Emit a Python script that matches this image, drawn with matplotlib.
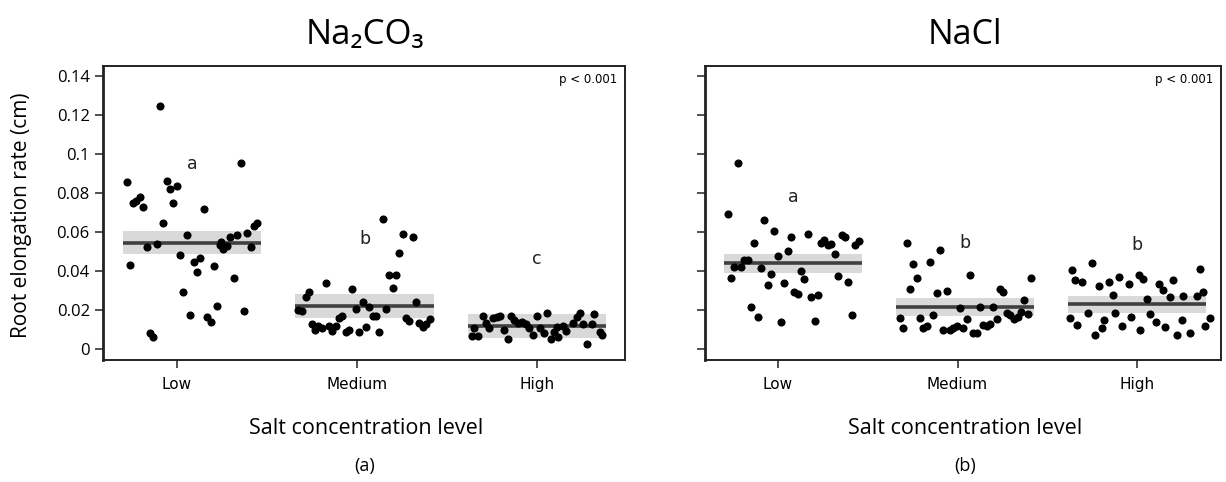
import numpy as np
import matplotlib
matplotlib.use("Agg")
from matplotlib import pyplot as plt

# category labels and significance letters
levels = ["Low", "Medium", "High"]
letters_a = ["a", "b", "c"]
letters_b = ["a", "b", "b"]
letter_y_a = [0.095, 0.0566, 0.046]
letter_y_b = [0.078, 0.0543, 0.0534]

# group means and confidence band limits
mean_a = [0.0546, 0.0222, 0.0119]
lo_a = [0.0488, 0.0159, 0.0056]
hi_a = [0.0606, 0.0282, 0.0181]
mean_b = [0.0441, 0.0218, 0.0230]
lo_b = [0.0393, 0.0171, 0.0185]
hi_b = [0.0487, 0.0264, 0.0275]

# Na2CO3 raw points: jitter offset from category, value
na2co3_low_x = [-0.279, -0.096, -0.263, -0.246, -0.228, -0.206, -0.187, -0.168, -0.113, -0.076,
                -0.057, -0.039, -0.002, -0.021, 0.054, 0.017, 0.035, 0.093, 0.129, 0.109,
                0.148, 0.204, 0.243, 0.257, 0.276, 0.296, 0.335, 0.317, 0.354, 0.391,
                0.409, 0.428, 0.446, 0.072, -0.150, -0.132, 0.165, 0.187, 0.222, 0.372, 0.239]
na2co3_low_y = [0.0856, 0.1246, 0.0430, 0.0748, 0.0758, 0.0779, 0.0727, 0.0526, 0.0539, 0.0649,
                0.0862, 0.0820, 0.0838, 0.0748, 0.0584, 0.0483, 0.0295, 0.0447, 0.0468, 0.0398,
                0.0717, 0.0428, 0.0550, 0.0515, 0.0529, 0.0577, 0.0586, 0.0367, 0.0954, 0.0594,
                0.0523, 0.0633, 0.0645, 0.0176, 0.0082, 0.0065, 0.0164, 0.0140, 0.0222, 0.0198, 0.0534]
na2co3_med_x = [0.143, 0.254, 0.311, 0.235, 0.179, 0.217, 0.198, -0.174, -0.026, -0.268,
                -0.283, -0.326, -0.307, -0.252, -0.233, -0.215, -0.196, -0.156, -0.137, -0.118,
                -0.100, -0.082, -0.061, -0.043, -0.006, 0.011, 0.032, 0.050, 0.068, 0.087,
                0.106, 0.124, 0.161, 0.272, 0.291, 0.328, 0.346, 0.365, 0.383, 0.406]
na2co3_med_y = [0.0667, 0.0591, 0.0574, 0.0492, 0.0381, 0.0381, 0.0312, 0.0341, 0.0310, 0.0292,
                0.0269, 0.0201, 0.0196, 0.0130, 0.0099, 0.0119, 0.0108, 0.0119, 0.0095, 0.0119,
                0.0159, 0.0171, 0.0090, 0.0099, 0.0206, 0.0090, 0.0244, 0.0113, 0.0218, 0.0172,
                0.0172, 0.0090, 0.0206, 0.0159, 0.0147, 0.0241, 0.0133, 0.0113, 0.0130, 0.0154]
na2co3_high_x = [-0.363, -0.326, -0.348, -0.302, -0.283, -0.265, -0.246, -0.224, -0.206, -0.183,
                 -0.163, -0.144, -0.126, -0.107, -0.085, -0.061, -0.043, -0.024, -0.002, 0.017,
                 0.039, 0.057, 0.076, 0.094, 0.118, 0.113, 0.143, 0.161, 0.198, 0.221,
                 0.239, 0.257, 0.279, 0.304, 0.317, 0.350, 0.363]
na2co3_high_y = [0.0070, 0.0070, 0.0108, 0.0171, 0.0136, 0.0108, 0.0159, 0.0164, 0.0172, 0.0099,
                 0.0051, 0.0171, 0.0150, 0.0136, 0.0141, 0.0130, 0.0108, 0.0073, 0.0171, 0.0108,
                 0.0085, 0.0184, 0.0051, 0.0090, 0.0065, 0.0116, 0.0119, 0.0095, 0.0136, 0.0167,
                 0.0188, 0.0130, 0.0027, 0.0130, 0.0181, 0.0090, 0.0073]

# NaCl raw points
nacl_low_x = [-0.225, -0.280, -0.076, -0.021, -0.132, 0.072, 0.165, 0.054, -0.002, -0.188,
              -0.169, -0.243, -0.206, -0.095, -0.039, -0.262, -0.057, 0.035, 0.091, 0.110,
              0.128, 0.147, 0.184, 0.221, 0.240, 0.258, 0.277, 0.295, 0.318, 0.355,
              0.373, 0.336, 0.392, 0.429, 0.451, -0.150, -0.113, 0.017, 0.206, 0.411]
nacl_low_y = [0.0953, 0.0695, 0.0664, 0.0604, 0.0546, 0.0577, 0.0592, 0.0505, 0.0476, 0.0457,
              0.0457, 0.0423, 0.0423, 0.0415, 0.0387, 0.0367, 0.0328, 0.0340, 0.0292, 0.0282,
              0.0401, 0.0360, 0.0269, 0.0278, 0.0543, 0.0560, 0.0534, 0.0541, 0.0487, 0.0586,
              0.0577, 0.0377, 0.0346, 0.0534, 0.0555, 0.0218, 0.0167, 0.0138, 0.0147, 0.0176]
nacl_med_x = [-0.283, -0.097, -0.246, -0.153, -0.227, 0.070, 0.409, -0.265, -0.116, -0.060,
              0.237, 0.255, 0.370, 0.014, 0.125, 0.199, -0.135, -0.320, -0.302, -0.209,
              -0.191, -0.172, -0.079, -0.042, -0.023, -0.001, 0.032, 0.055, 0.088, 0.107,
              0.144, 0.163, 0.181, 0.222, 0.274, 0.292, 0.315, 0.336, 0.353, 0.390]
nacl_med_y = [0.0546, 0.0509, 0.0437, 0.0446, 0.0367, 0.0381, 0.0367, 0.0307, 0.0287, 0.0299,
              0.0307, 0.0295, 0.0253, 0.0210, 0.0218, 0.0218, 0.0176, 0.0159, 0.0108, 0.0159,
              0.0108, 0.0119, 0.0099, 0.0099, 0.0108, 0.0119, 0.0108, 0.0154, 0.0082, 0.0082,
              0.0124, 0.0119, 0.0130, 0.0154, 0.0184, 0.0176, 0.0154, 0.0164, 0.0193, 0.0179]
nacl_high_x = [-0.252, -0.364, -0.345, -0.308, -0.210, -0.154, -0.099, -0.043, 0.013, 0.035,
               0.124, 0.147, 0.199, 0.351, 0.369, 0.333, 0.258, 0.184, -0.135, 0.054,
               -0.373, -0.334, -0.273, -0.234, -0.184, -0.123, -0.084, -0.033, 0.017, 0.072,
               0.106, 0.156, 0.223, 0.251, 0.295, 0.379, 0.407, -0.195]
nacl_high_y = [0.0444, 0.0406, 0.0355, 0.0346, 0.0324, 0.0346, 0.0372, 0.0333, 0.0381, 0.0360,
               0.0333, 0.0304, 0.0355, 0.0411, 0.0295, 0.0273, 0.0273, 0.0269, 0.0278, 0.0256,
               0.0160, 0.0125, 0.0186, 0.0073, 0.0150, 0.0186, 0.0120, 0.0166, 0.0099, 0.0181,
               0.0140, 0.0114, 0.0073, 0.0150, 0.0084, 0.0120, 0.0160, 0.0110]

yticks = [0, 0.02, 0.04, 0.06, 0.08, 0.1, 0.12, 0.14]
ytick_labels = ["0", "0.02", "0.04", "0.06", "0.08", "0.1", "0.12", "0.14"]

band_shift = [0.083, 0.042, 0.0]   # mean band sits a bit right of the tick
half_w = 0.385

W, H = 1226, 482
fig = plt.figure(figsize=(W / 100, H / 100), dpi=100)
ax1 = fig.add_axes([103 / W, 1 - 360 / H, 522 / W, 294 / H])
ax2 = fig.add_axes([705 / W, 1 - 360 / H, 516 / W, 294 / H])

panels = [
    (ax1, (0.589, 3.489), mean_a, lo_a, hi_a, letters_a, letter_y_a,
     [(na2co3_low_x, na2co3_low_y), (na2co3_med_x, na2co3_med_y), (na2co3_high_x, na2co3_high_y)]),
    (ax2, (0.593, 3.468), mean_b, lo_b, hi_b, letters_b, letter_y_b,
     [(nacl_low_x, nacl_low_y), (nacl_med_x, nacl_med_y), (nacl_high_x, nacl_high_y)]),
]

for ax, xl, mu, lo, hi, let, lety, pts in panels:
    for i in range(3):
        c = i + 1 + band_shift[i]
        ax.fill_between([c - half_w, c + half_w], lo[i], hi[i], color="#d9d9d9", lw=0, zorder=1)
        jx, vy = pts[i]
        ax.scatter(i + 1 + np.array(jx), vy, s=34, color="black", lw=0, zorder=3)
        ax.plot([c - half_w, c + half_w], [mu[i], mu[i]], color="#404040", lw=2.6,
                solid_capstyle="butt", zorder=2)
        ax.text(c, lety[i], let[i], ha="center", va="center", fontsize=12.5,
                family="DejaVu Sans", color="#222222")
    ax.set_xlim(*xl)
    ax.set_ylim(-0.0055, 0.1451)
    ax.set_xticks([1, 2, 3])
    ax.set_xticklabels(levels, family="DejaVu Sans", fontsize=11)
    ax.set_yticks(yticks)
    ax.tick_params(axis="both", direction="out", length=6, width=1.2, color="#333333")
    ax.tick_params(axis="x", pad=6)
    for s in ax.spines.values():
        s.set_linewidth(1.4)
        s.set_color("#222222")
    ax.spines["left"].set_linewidth(2)
    ax.text(0.985, 0.955, "p < 0.001", transform=ax.transAxes, ha="right", va="center",
            fontsize=8.5, family="DejaVu Sans")

ax1.set_yticklabels(ytick_labels, family="Open Sans", fontsize=12)
ax2.set_yticklabels([])

fam = ["Open Sans", "DejaVu Sans"]
fig.text(365 / W, 1 - 35 / H, "Na₂CO₃", ha="center", va="center", fontsize=25, family=fam)
fig.text(965 / W, 1 - 35 / H, "NaCl", ha="center", va="center", fontsize=24.5, family=fam)
fig.text(22 / W, 1 - 215 / H, "Root elongation rate (cm)", ha="center", va="center",
         rotation=90, fontsize=15, family=fam)
fig.text(366 / W, 1 - 428 / H, "Salt concentration level", ha="center", va="center",
         fontsize=15.5, family=fam)
fig.text(965 / W, 1 - 428 / H, "Salt concentration level", ha="center", va="center",
         fontsize=15.5, family=fam)
fig.text(365 / W, 1 - 466 / H, "(a)", ha="center", va="center", fontsize=13, family=fam)
fig.text(965 / W, 1 - 466 / H, "(b)", ha="center", va="center", fontsize=13, family=fam)

fig.savefig("out.png", dpi=100)
